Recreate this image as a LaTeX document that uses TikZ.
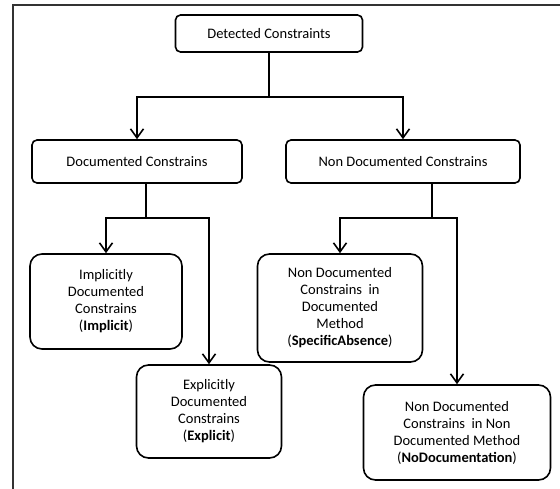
\documentclass[tikz,border=0pt]{standalone}
\usepackage{fontspec}
\setmainfont{Carlito}
\usetikzlibrary{arrows.meta}

\begin{document}
\begin{tikzpicture}[x=1pt,y=-1pt,->,>={Straight Barb[length=9pt,width=13pt]},
                    line width=1.6pt,font=\fontsize{14.5}{17}\selectfont]
  \tikzstyle{every node}=[align=center,text=black]
  \tikzstyle{cbox}=[draw=black,fill=white,rounded corners=5pt,inner sep=2pt]
  \tikzstyle{leafbox}=[cbox,rounded corners=12pt]

  \useasboundingbox (0,0) rectangle (560,489);
  % frame of the screenshot
  \draw[-,draw=black!80,line width=1.6pt] (560,5) -- (13,5) -- (13,489);

  \node[cbox,minimum width=187pt,minimum height=37pt]    (det)  at (269,33.5)  {Detected Constraints};
  \node[cbox,minimum width=210pt,minimum height=43pt]    (doc)  at (137,161.5)  {Documented Constrains};
  \node[cbox,minimum width=234pt,minimum height=43pt]    (ndoc) at (403,161.5)  {Non Documented Constrains};
  \node[leafbox,minimum width=152pt,minimum height=95pt] (impl) at (106,301.5)  {Implicitly\\Documented\\Constrains\\(\textbf{Implicit})};
  \node[leafbox,minimum width=145pt,minimum height=93pt] (expl) at (209,411.5)  {Explicitly\\Documented\\Constrains\\(\textbf{Explicit})};
  \node[leafbox,minimum width=165pt,minimum height=108pt] (spec) at (340,308) {Non Documented\\Constrains\ \ in\\Documented\\Method\\(\textbf{SpecificAbsence})};
  \node[leafbox,minimum width=187pt,minimum height=95pt] (nodoc) at (457,432.5) {Non Documented\\Constrains\ \ in Non\\Documented Method\\(\textbf{NoDocumentation})};

  \coordinate (j1) at (269,97);
  \coordinate (j2) at (146,218);
  \coordinate (j3) at (432,218);

  \draw[-] (det) -- (j1);
  \draw (j1) -| (doc);
  \draw (j1) -| (ndoc);

  \draw[-] (doc.south -| j2) -- (j2);
  \draw (j2) -| (impl);
  \draw (j2) -| (expl);

  \draw[-] (ndoc.south -| j3) -- (j3);
  \draw (j3) -| (spec);
  \draw (j3) -| (nodoc);
\end{tikzpicture}
\end{document}
